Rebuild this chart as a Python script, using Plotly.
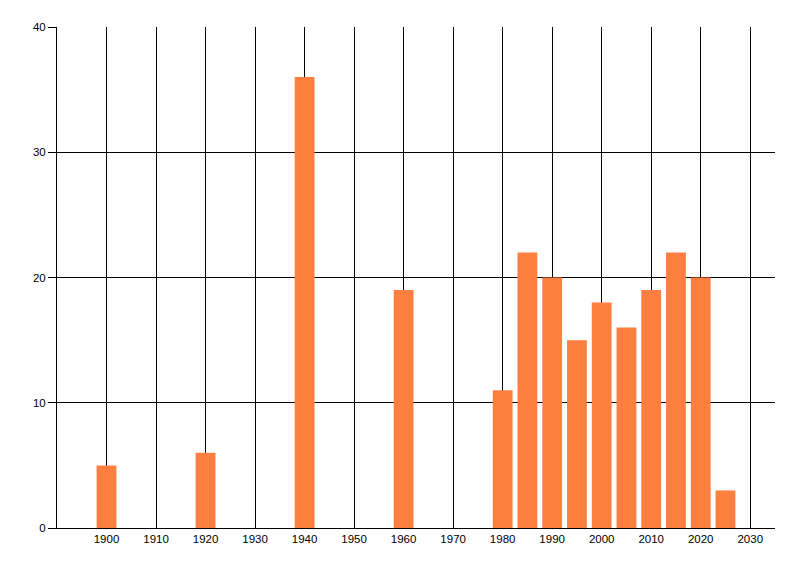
import plotly.graph_objects as go

# Years and counts
years = [1900, 1920, 1940, 1960, 1980, 1985, 1990, 1995, 2000, 2005, 2010, 2015, 2020, 2025]
counts = [5, 6, 36, 19, 11, 22, 20, 15, 18, 16, 19, 22, 20, 3]
x_ticks = [1900, 1910, 1920, 1930, 1940, 1950, 1960, 1970, 1980, 1990, 2000, 2010, 2020, 2030]

fig = go.Figure(go.Bar(x=years, y=counts, width=4, marker_color="#FF7F41", marker_line_width=0))

# the page adds an 8px body margin, so the margins are trimmed to compensate
fig.update_layout(
    width=800, height=576,
    margin=dict(l=49, r=33, t=19, b=56),
    plot_bgcolor="white", paper_bgcolor="white",
    font=dict(family="Liberation Sans, Arial", size=11.5, color="black"),
    showlegend=False,
)
fig.update_xaxes(
    range=[1890, 2035], tickvals=x_ticks,
    showgrid=True, gridcolor="black", gridwidth=1,
    showline=True, linecolor="black", linewidth=1,
    ticks="", zeroline=False,
)
fig.update_yaxes(
    range=[0, 40], dtick=10,
    showgrid=True, gridcolor="black", gridwidth=1,
    showline=True, linecolor="black", linewidth=1,
    ticks="outside", ticklen=8, tickcolor="black", zeroline=False,
)

fig.write_html("out.html")
